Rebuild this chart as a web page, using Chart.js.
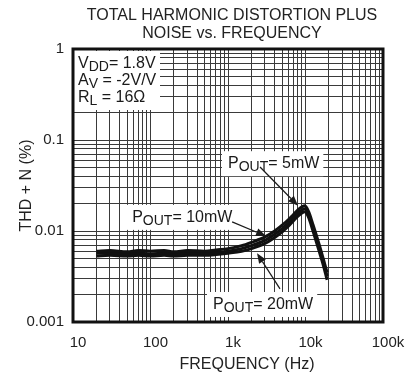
<!DOCTYPE html>
<html>
<head>
<meta charset="utf-8">
<script src="https://cdn.jsdelivr.net/npm/chart.js@4.4.1/dist/chart.umd.min.js"></script>
<style>
  html, body { margin: 0; padding: 0; background: #fff; }
  #wrap { width: 416px; height: 378px; }
</style>
</head>
<body>
<div id="wrap"><canvas id="thdChart" width="416" height="378"></canvas></div>
<script>
const frequencies = [20, 30, 50, 70, 100, 150, 200, 300, 500, 700, 1000, 1500, 2000, 3000, 4000, 5000, 6000, 7000, 8000, 9000, 9800, 11000, 12500, 15000, 17000, 19000];
const thd5mW  = [0.0060, 0.0061, 0.0059, 0.0061, 0.0060, 0.0061, 0.0059, 0.0061, 0.0060, 0.0062, 0.0064, 0.0069, 0.0075, 0.0086, 0.0100, 0.0116, 0.0133, 0.0152, 0.0171, 0.0185, 0.0190, 0.0162, 0.0117, 0.0071, 0.0049, 0.0035];
const thd10mW = [0.0057, 0.0057, 0.0056, 0.0057, 0.0056, 0.0057, 0.0056, 0.0057, 0.0057, 0.0058, 0.0060, 0.0064, 0.0069, 0.0079, 0.0092, 0.0106, 0.0122, 0.0140, 0.0157, 0.0170, 0.0176, 0.0150, 0.0108, 0.0065, 0.0045, 0.0032];
const thd20mW = [0.0053, 0.0054, 0.0053, 0.0054, 0.0053, 0.0054, 0.0053, 0.0054, 0.0054, 0.0055, 0.0057, 0.0060, 0.0064, 0.0073, 0.0085, 0.0098, 0.0113, 0.0130, 0.0146, 0.0158, 0.0163, 0.0140, 0.0100, 0.0060, 0.0042, 0.0029];

const xMajorTicks = [10, 100, 1000, 10000, 100000];
const xTickLabels = ['10', '100', '1k', '10k', '100k'];
const yMajorTicks = [0.001, 0.01, 0.1, 1];
const yTickLabels = ['0.001', '0.01', '0.1', '1'];

const FONT = '"Liberation Sans", Arial, Helvetica, sans-serif';
const INK = '#1a1a1a';

// grid lines at 1..9 of every decade
function decadeGrid(majors) {
    const out = [];
    for (let i = 0; i < majors.length - 1; i++) {
        for (let k = 1; k <= 9; k++) out.push(parseFloat((majors[i] * k).toPrecision(6)));
    }
    out.push(majors[majors.length - 1]);
    return out;
}

function majorLabel(value, majors, labels) {
    for (let i = 0; i < majors.length; i++) {
        if (Math.abs(value - majors[i]) / majors[i] < 1e-6) return labels[i];
    }
    return '';
}

// text pieces: [text, size, dy]
const notes = [
    { lines: [
        { f: 11.6, v: 0.62, parts: [['V', 16, 0], ['DD', 14, 3], ['= 1.8V', 16, 0]] },
        { f: 11.6, v: 0.40, parts: [['A', 16, 0], ['V', 14, 3], [' = -2V/V', 16, 0]] },
        { f: 11.6, v: 0.262, parts: [['R', 16, 0], ['L', 14, 3], [' = 16Ω', 16, 0]] }
      ], box: { left: 1, top: 2, right: 160, bottom: 110 } },
    { lines: [{ f: 1000, v: 0.049, parts: [['P', 16, 0], ['OUT', 14, 3], ['= 5mW', 16, 0]] }],
      arrow: { from: [2590, 0.0505], to: [8000, 0.0190] } },
    { lines: [{ f: 58, v: 0.0126, parts: [['P', 16, 0], ['OUT', 14, 3], ['= 10mW', 16, 0]] }],
      arrow: { from: [1130, 0.0126], to: [3090, 0.0088] } },
    { lines: [{ f: 640, v: 0.00139, parts: [['P', 16, 0], ['OUT', 14, 3], ['= 20mW', 16, 0]] }],
      arrow: { from: [4690, 0.00231], to: [2370, 0.0057] } }
];

function richWidth(ctx, parts) {
    let w = 0;
    parts.forEach(p => { ctx.font = p[1] + 'px ' + FONT; w += ctx.measureText(p[0]).width; });
    return w;
}

function drawRich(ctx, x, y, parts) {
    parts.forEach(p => {
        ctx.font = p[1] + 'px ' + FONT;
        ctx.fillText(p[0], x, y + p[2]);
        x += ctx.measureText(p[0]).width;
    });
}

function drawArrow(ctx, x1, y1, x2, y2) {
    const a = Math.atan2(y2 - y1, x2 - x1);
    const len = 10, half = 4;
    const bx = x2 - len * Math.cos(a), by = y2 - len * Math.sin(a);
    ctx.beginPath();
    ctx.moveTo(x1, y1);
    ctx.lineTo(bx, by);
    ctx.lineWidth = 1.2;
    ctx.stroke();
    ctx.beginPath();
    ctx.moveTo(x2, y2);
    ctx.lineTo(bx + half * Math.sin(a), by - half * Math.cos(a));
    ctx.lineTo(bx - half * Math.sin(a), by + half * Math.cos(a));
    ctx.closePath();
    ctx.fill();
}

const notesPlugin = {
    id: 'thdNotes',
    afterDraw(chart) {
        const { ctx, chartArea, scales } = chart;
        const xs = scales.x, ys = scales.y;
        ctx.save();
        ctx.fillStyle = INK;
        ctx.strokeStyle = INK;
        ctx.textAlign = 'left';
        ctx.textBaseline = 'alphabetic';

        notes.forEach(n => {
            if (n.box) {
                ctx.fillStyle = '#fff';
                ctx.fillRect(chartArea.left + n.box.left, chartArea.top + n.box.top,
                    n.box.right - chartArea.left - n.box.left, n.box.bottom - chartArea.top - n.box.top);
            } else {
                n.lines.forEach(l => {
                    const px = xs.getPixelForValue(l.f), py = ys.getPixelForValue(l.v);
                    const w = richWidth(ctx, l.parts);
                    ctx.fillStyle = '#fff';
                    ctx.fillRect(px - 6, py - 17, w + 10, 25);
                });
            }
            ctx.fillStyle = INK;
            n.lines.forEach(l => {
                drawRich(ctx, xs.getPixelForValue(l.f), ys.getPixelForValue(l.v), l.parts);
            });
            if (n.arrow) {
                drawArrow(ctx,
                    xs.getPixelForValue(n.arrow.from[0]), ys.getPixelForValue(n.arrow.from[1]),
                    xs.getPixelForValue(n.arrow.to[0]), ys.getPixelForValue(n.arrow.to[1]));
            }
        });

        // heavy frame
        ctx.lineWidth = 3;
        ctx.strokeStyle = '#111';
        ctx.strokeRect(chartArea.left, chartArea.top, chartArea.right - chartArea.left, chartArea.bottom - chartArea.top);

        // title and x axis title
        ctx.fillStyle = '#222';
        ctx.textAlign = 'center';
        ctx.font = '16px ' + FONT;
        ctx.fillText('TOTAL HARMONIC DISTORTION PLUS', 232, 20);
        ctx.fillText('NOISE vs. FREQUENCY', 232, 38);
        ctx.fillText('FREQUENCY (Hz)', 247, 369);
        ctx.restore();
    }
};

function series(values) {
    return frequencies.map((f, i) => ({ x: f, y: values[i] }));
}

const lineStyle = {
    borderColor: '#111',
    borderWidth: 3,
    pointRadius: 0,
    fill: false,
    cubicInterpolationMode: 'monotone'
};

const ctx = document.getElementById('thdChart').getContext('2d');
new Chart(ctx, {
    type: 'line',
    data: {
        datasets: [
            Object.assign({ label: 'POUT = 5mW', data: series(thd5mW) }, lineStyle),
            Object.assign({ label: 'POUT = 10mW', data: series(thd10mW) }, lineStyle),
            Object.assign({ label: 'POUT = 20mW', data: series(thd20mW) }, lineStyle)
        ]
    },
    options: {
        responsive: false,
        animation: false,
        layout: { padding: { top: 49, right: 33, bottom: 0, left: 0 } },
        plugins: {
            legend: { display: false },
            tooltip: { enabled: false },
            title: { display: false }
        },
        scales: {
            x: {
                type: 'logarithmic',
                min: 10,
                max: 100000,
                afterBuildTicks: function(scale) {
                    scale.ticks = decadeGrid(xMajorTicks).map(v => ({ value: v }));
                },
                afterFit: function(scale) { scale.height = 56; },
                grid: { color: '#3a3a3a', lineWidth: 1, drawTicks: false },
                border: { display: false },
                ticks: {
                    autoSkip: false,
                    maxRotation: 0,
                    padding: 12,
                    labelOffset: 5,
                    color: '#222',
                    font: { size: 15, family: FONT },
                    callback: function(value) { return majorLabel(value, xMajorTicks, xTickLabels); }
                }
            },
            y: {
                type: 'logarithmic',
                min: 0.001,
                max: 1,
                afterBuildTicks: function(scale) {
                    scale.ticks = decadeGrid(yMajorTicks).map(v => ({ value: v }));
                },
                afterFit: function(scale) { scale.width = 73; },
                grid: { color: '#3a3a3a', lineWidth: 1, drawTicks: false },
                border: { display: false },
                title: {
                    display: true,
                    text: 'THD + N (%)',
                    color: '#222',
                    font: { size: 16, family: FONT },
                    padding: { top: 17, bottom: 0 }
                },
                ticks: {
                    autoSkip: false,
                    padding: 9,
                    color: '#222',
                    font: { size: 15, family: FONT },
                    callback: function(value) { return majorLabel(value, yMajorTicks, yTickLabels); }
                }
            }
        }
    },
    plugins: [notesPlugin]
});
</script>
</body>
</html>
